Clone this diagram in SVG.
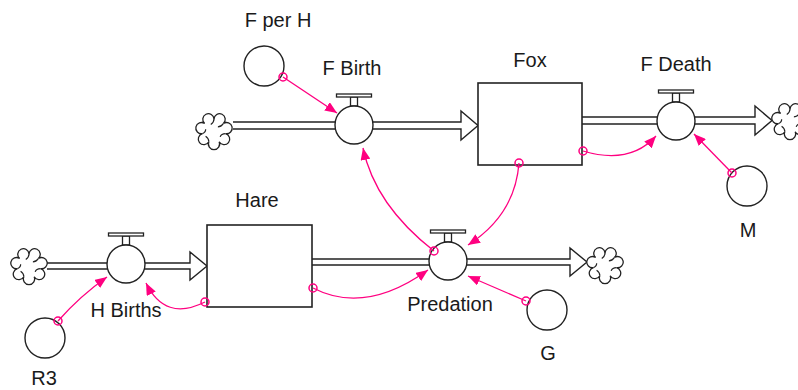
<svg xmlns="http://www.w3.org/2000/svg" xmlns:xlink="http://www.w3.org/1999/xlink" width="798" height="390" viewBox="0 0 798 390">
<style>
.lbl{font-family:"Liberation Sans",Arial,sans-serif;font-size:20px;fill:#1a1a1a;text-anchor:middle}
.pipe{fill:#fff;stroke:#222;stroke-width:1.4;stroke-linejoin:miter}
.stock{fill:#fff;stroke:#222;stroke-width:1.6}
.aux{fill:#fff;stroke:#222;stroke-width:1.4}
.cl{fill:#fff;stroke:#222;stroke-width:1.2}
.conn{fill:none;stroke:#ff0080;stroke-width:1.3;marker-end:url(#ah)}
.dot{fill:none;stroke:#ff0080;stroke-width:1.5}
</style>
<defs>
<marker id="ah" markerUnits="userSpaceOnUse" viewBox="0 0 12 10" markerWidth="12" markerHeight="10" refX="12" refY="5" orient="auto">
<path d="M0,0 L12,5 L0,10 z" fill="#ff0080"/>
</marker>
<g id="cloud">
<path class="cl" d="M0,-11 A5.2,5.2 0 1 1 8.6,-6.86 A5.2,5.2 0 1 1 10.72,2.46 A5.2,5.2 0 1 1 4.77,9.91 A5.2,5.2 0 1 1 -4.77,9.91 A5.2,5.2 0 1 1 -10.72,2.46 A5.2,5.2 0 1 1 -8.6,-6.86 A5.2,5.2 0 1 1 0,-11 Z"/>
<path fill="none" stroke="#222" stroke-width="1.1" d="M8.6,-6.86 q-2,3 -5,3 M10.72,2.46 q-4,0 -5,3 M-4.77,9.91 q0,-3 -3,-5 M-10.72,2.46 q3,-1 3,-4 M0,-11 q0,3 -3,5"/>
</g>
<g id="valve">
<rect x="-3.5" y="-28" width="7" height="9" fill="#fff" stroke="#222" stroke-width="1.3"/>
<rect x="-17.5" y="-31" width="35" height="3" fill="#fff" stroke="#222" stroke-width="1.3"/>
<circle r="19" fill="#fff" stroke="#222" stroke-width="1.4"/>
</g>
</defs>

<g id="flow-pipes">
<path class="pipe" d="M233,122 L461,122 L461,111 L478,125.5 L461,140 L461,129 L233,129"/>
<path class="pipe" d="M582,117 L755,117 L755,106 L772,120.5 L755,135 L755,124 L582,124"/>
<path class="pipe" d="M47,263 L190,263 L190,252 L207,266 L190,280 L190,269 L47,269"/>
<path class="pipe" d="M312,259 L570,259 L570,248 L587,262 L570,276 L570,265 L312,265"/>
</g>

<g id="clouds">
<use xlink:href="#cloud" transform="translate(214,131) scale(1.08)"/>
<use xlink:href="#cloud" transform="translate(790,121) scale(1.08)"/>
<use xlink:href="#cloud" transform="translate(29,266) scale(1.08)"/>
<use xlink:href="#cloud" transform="translate(605,265) scale(1.08)"/>
</g>

<g id="Fox">
<rect class="stock" x="478" y="83" width="104" height="82"/>
<text class="lbl" x="530" y="67">Fox</text>
</g>
<g id="Hare">
<rect class="stock" x="207" y="225" width="105" height="82"/>
<text class="lbl" x="257" y="207">Hare</text>
</g>

<g id="F_Birth">
<use xlink:href="#valve" x="354" y="125"/>
<text class="lbl" x="352" y="75">F Birth</text>
</g>
<g id="F_Death">
<use xlink:href="#valve" x="676" y="121"/>
<text class="lbl" x="676" y="71">F Death</text>
</g>
<g id="H_Births">
<use xlink:href="#valve" x="126" y="264"/>
<text class="lbl" x="126" y="317">H Births</text>
</g>
<g id="Predation">
<use xlink:href="#valve" x="448" y="261"/>
<text class="lbl" x="450" y="311">Predation</text>
</g>

<g id="F_per_H">
<circle class="aux" cx="264" cy="66" r="20"/>
<text class="lbl" x="278" y="27">F per H</text>
</g>
<g id="M">
<circle class="aux" cx="747" cy="186" r="20"/>
<text class="lbl" x="748" y="237">M</text>
</g>
<g id="G">
<circle class="aux" cx="547" cy="310" r="20"/>
<text class="lbl" x="548" y="360">G</text>
</g>
<g id="R3">
<circle class="aux" cx="45" cy="338" r="20"/>
<text class="lbl" x="44" y="385">R3</text>
</g>

<g id="connectors">
<path class="conn" d="M283,77 L337,113"/>
<circle class="dot" cx="283" cy="77" r="4"/>
<path class="conn" d="M434,251 Q375,205 363,148"/>
<circle class="dot" cx="434" cy="251" r="4"/>
<path class="conn" d="M519,163 Q515,215 468,245"/>
<circle class="dot" cx="519" cy="163" r="4"/>
<path class="conn" d="M583,151 Q630,165 656,136"/>
<circle class="dot" cx="583" cy="151" r="4"/>
<path class="conn" d="M732,173 L694,134"/>
<circle class="dot" cx="732" cy="173" r="4"/>
<path class="conn" d="M58,321 Q80,296 107,277"/>
<circle class="dot" cx="58" cy="321" r="4"/>
<path class="conn" d="M205,302 Q165,322 146,283"/>
<circle class="dot" cx="205" cy="302" r="4"/>
<path class="conn" d="M313,288 Q365,315 428,270"/>
<circle class="dot" cx="313" cy="288" r="4"/>
<path class="conn" d="M526,301 L468,276"/>
<circle class="dot" cx="526" cy="301" r="4"/>
</g>
</svg>
